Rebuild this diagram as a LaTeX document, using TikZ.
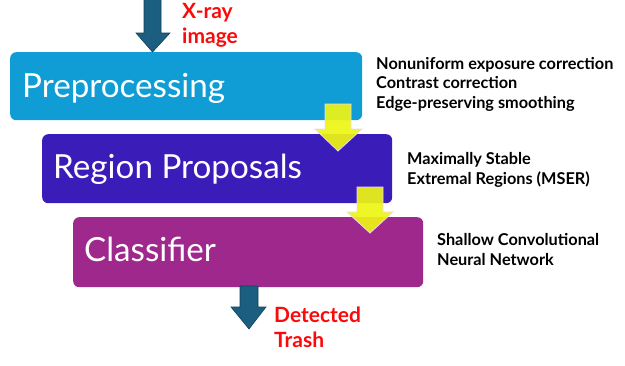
\documentclass[tikz,border=0pt]{standalone}
\usepackage{fontspec}
\setmainfont{Lato}
\definecolor{cPre}{RGB}{16,157,213}
\definecolor{cReg}{RGB}{58,28,184}
\definecolor{cCls}{RGB}{158,40,140}
\definecolor{cDark}{RGB}{27,94,128}
\definecolor{cYel}{RGB}{238,245,20}
\definecolor{cRed}{RGB}{250,10,10}
\begin{document}
\begin{tikzpicture}[x=1pt,y=-1pt,
  box/.style={rounded corners=6pt, inner sep=0pt, anchor=north west, draw=none},
  boxlabel/.style={anchor=base west, inner sep=0pt, text=white, font=\fontsize{33.2}{36}\selectfont},
  note/.style={anchor=base west, inner sep=0pt, align=left, font=\bfseries\fontsize{16.3}{19.5}\selectfont},
  redtext/.style={anchor=base west, inner sep=0pt, align=left, text=cRed, font=\bfseries\fontsize{21}{25}\selectfont},
  darrow/.style={fill=cDark, draw=cDark!70!black, line width=0.6pt},
  yarrow/.style={fill=cYel, fill opacity=0.92, draw=white!85!violet, line width=0.8pt}
]
\useasboundingbox (0,0) rectangle (625,365);
% boxes
\node[box, fill=cPre, minimum width=352pt, minimum height=68pt] (pre) at (10,52) {};
\node[box, fill=cReg, minimum width=350pt, minimum height=69pt] (reg) at (42,134) {};
\node[box, fill=cCls, minimum width=350pt, minimum height=70pt] (cls) at (73,217) {};
% box labels
\node[boxlabel] (tpre) at (22,97) {Preprocessing};
\node[boxlabel] (treg) at (53,178) {Region Proposals};
\node[boxlabel] (tcls) at (84,261) {Classifier};
% dark arrows
\draw[darrow] (144,-2) -- (161,-2) -- (161,33) -- (170,33) -- (152.5,52) -- (136,33) -- (144,33) -- cycle;
\draw[darrow] (240,286) -- (258,286) -- (258,307) -- (266,307) -- (249,329) -- (231,307) -- (240,307) -- cycle;
% yellow arrows
\draw[yarrow] (325,104) -- (351,104) -- (351,129) -- (362,129) -- (338,151) -- (315,129) -- (325,129) -- cycle;
\draw[yarrow] (357,187) -- (383,187) -- (383,212) -- (393,212) -- (370,233) -- (347,212) -- (357,212) -- cycle;
% red labels (anchor = baseline of last line)
\node[redtext] (xray) at (182,43) {X-ray\\image};
\node[redtext] (det) at (274,347) {Detected\\Trash};
% notes
\node[note] (n1) at (376,108) {Nonuniform exposure correction\\Contrast correction\\Edge-preserving smoothing};
\node[note] (n2) at (407,184) {Maximally Stable\\Extremal Regions (MSER)};
\node[note] (n3) at (437,265) {Shallow Convolutional\\Neural Network};
\end{tikzpicture}
\end{document}
